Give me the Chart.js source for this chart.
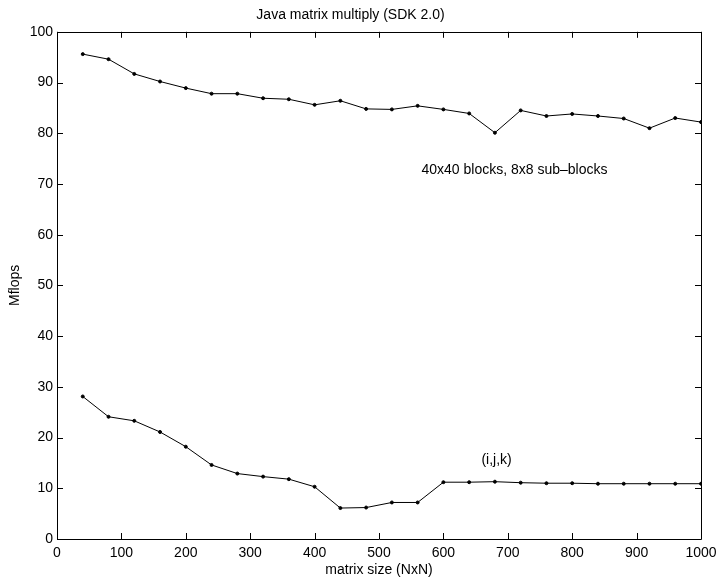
<!DOCTYPE html>
<html>
<head>
<meta charset="utf-8">
<script src="https://cdn.jsdelivr.net/npm/chart.js@4.4.0/dist/chart.umd.min.js"></script>
<style>
  html, body { margin: 0; padding: 0; background: #fff; }
  #wrap { width: 717px; height: 579px; }
</style>
</head>
<body>
<div id="wrap"><canvas id="line-chart"></canvas></div>
<script>
var matrixSizes = [40, 80, 120, 160, 200, 240, 280, 320, 360, 400, 440, 480, 520,
  560, 600, 640, 680, 720, 760, 800, 840, 880, 920, 960, 1000];
var blockedMflops = [95.6, 94.6, 91.7, 90.2, 88.9, 87.8, 87.8, 86.9, 86.7, 85.6, 86.4, 84.8, 84.7,
  85.4, 84.7, 83.9, 80.1, 84.5, 83.4, 83.8, 83.4, 82.9, 81.0, 83.0, 82.2];
var ijkMflops = [28.1, 24.1, 23.3, 21.1, 18.2, 14.6, 12.9, 12.3, 11.8, 10.3, 6.1, 6.2, 7.2,
  7.2, 11.2, 11.2, 11.3, 11.1, 11.0, 11.0, 10.9, 10.9, 10.9, 10.9, 10.9];
var xTicks = [0, 100, 200, 300, 400, 500, 600, 700, 800, 900, 1000];
var yTicks = [0, 10, 20, 30, 40, 50, 60, 70, 80, 90, 100];
var labels = [
  { text: "40x40 blocks, 8x8 sub\u2013blocks", x: 566, y: 72.8 },
  { text: "(i,j,k)", x: 659, y: 15.6 }
];

var FONT = "'Liberation Sans', Arial, Helvetica, sans-serif";
var FSIZE = 14;

function toPoints(ys) {
  var pts = [];
  for (let i = 0; i < matrixSizes.length; i++) {
    pts.push({ x: matrixSizes[i], y: ys[i] });
  }
  return pts;
}

// box around the plot + inward tick marks on all four sides, plus text labels
var boxPlugin = {
  id: 'box',
  afterDatasetsDraw: function(chart) {
    var ctx = chart.ctx;
    var a = chart.chartArea;
    var xs = chart.scales.x, ys = chart.scales.y;
    var tl = 6;
    ctx.save();
    ctx.strokeStyle = '#000';
    ctx.lineWidth = 1;
    ctx.beginPath();
    ctx.rect(Math.round(a.left) + 0.5, Math.round(a.top) + 0.5,
      Math.round(a.right - a.left), Math.round(a.bottom - a.top));
    xTicks.forEach(function(v) {
      var px = Math.round(xs.getPixelForValue(v)) + 0.5;
      ctx.moveTo(px, a.bottom); ctx.lineTo(px, a.bottom - tl);
      ctx.moveTo(px, a.top); ctx.lineTo(px, a.top + tl);
    });
    yTicks.forEach(function(v) {
      var py = Math.round(ys.getPixelForValue(v)) + 0.5;
      ctx.moveTo(a.left, py); ctx.lineTo(a.left + tl, py);
      ctx.moveTo(a.right, py); ctx.lineTo(a.right - tl, py);
    });
    ctx.stroke();

    ctx.fillStyle = '#000';
    ctx.font = FSIZE + 'px ' + FONT;
    ctx.textAlign = 'left';
    ctx.textBaseline = 'middle';
    labels.forEach(function(l) {
      ctx.fillText(l.text, xs.getPixelForValue(l.x), ys.getPixelForValue(l.y));
    });
    ctx.restore();
  }
};

new Chart(document.getElementById("line-chart"), {
  type: 'line',
  data: {
    datasets: [
      {
        data: toPoints(blockedMflops),
        borderColor: '#000',
        backgroundColor: '#000',
        borderWidth: 1,
        pointRadius: 1.5,
        pointHoverRadius: 1.5,
        tension: 0
      },
      {
        data: toPoints(ijkMflops),
        borderColor: '#000',
        backgroundColor: '#000',
        borderWidth: 1,
        pointRadius: 1.5,
        pointHoverRadius: 1.5,
        tension: 0
      }
    ]
  },
  options: {
    responsive: true,
    maintainAspectRatio: false,
    animation: false,
    layout: { padding: { top: 0, right: 16, left: 0, bottom: 0 } },
    plugins: {
      legend: { display: false },
      tooltip: { enabled: false },
      title: {
        display: true,
        text: 'Java matrix multiply (SDK 2.0)',
        color: '#000',
        font: { family: FONT, size: FSIZE, weight: 'normal' },
        padding: { top: 7, bottom: 8 }
      }
    },
    scales: {
      x: {
        type: 'linear',
        min: 0,
        max: 1000,
        afterFit: function(s) { s.height = 40; s.paddingRight = 16; },
        afterBuildTicks: function(s) { s.ticks = xTicks.map(function(v) { return { value: v }; }); },
        grid: { display: false, drawTicks: false },
        border: { display: false },
        ticks: {
          color: '#000',
          font: { family: FONT, size: FSIZE },
          padding: 6,
          maxRotation: 0,
          callback: function(v) { return String(v); }
        },
        title: {
          display: true,
          text: 'matrix size (NxN)',
          color: '#000',
          font: { family: FONT, size: FSIZE },
          padding: { top: 0, bottom: 0 }
        }
      },
      y: {
        min: 0,
        max: 100,
        afterFit: function(s) { s.width = 57; },
        afterBuildTicks: function(s) { s.ticks = yTicks.map(function(v) { return { value: v }; }); },
        grid: { display: false, drawTicks: false },
        border: { display: false },
        ticks: {
          color: '#000',
          font: { family: FONT, size: FSIZE },
          padding: 4,
          callback: function(v) { return String(v); }
        },
        title: {
          display: true,
          text: 'Mflops',
          color: '#000',
          font: { family: FONT, size: FSIZE },
          padding: { top: 7, bottom: 0 }
        }
      }
    }
  },
  plugins: [boxPlugin]
});
</script>
</body>
</html>
